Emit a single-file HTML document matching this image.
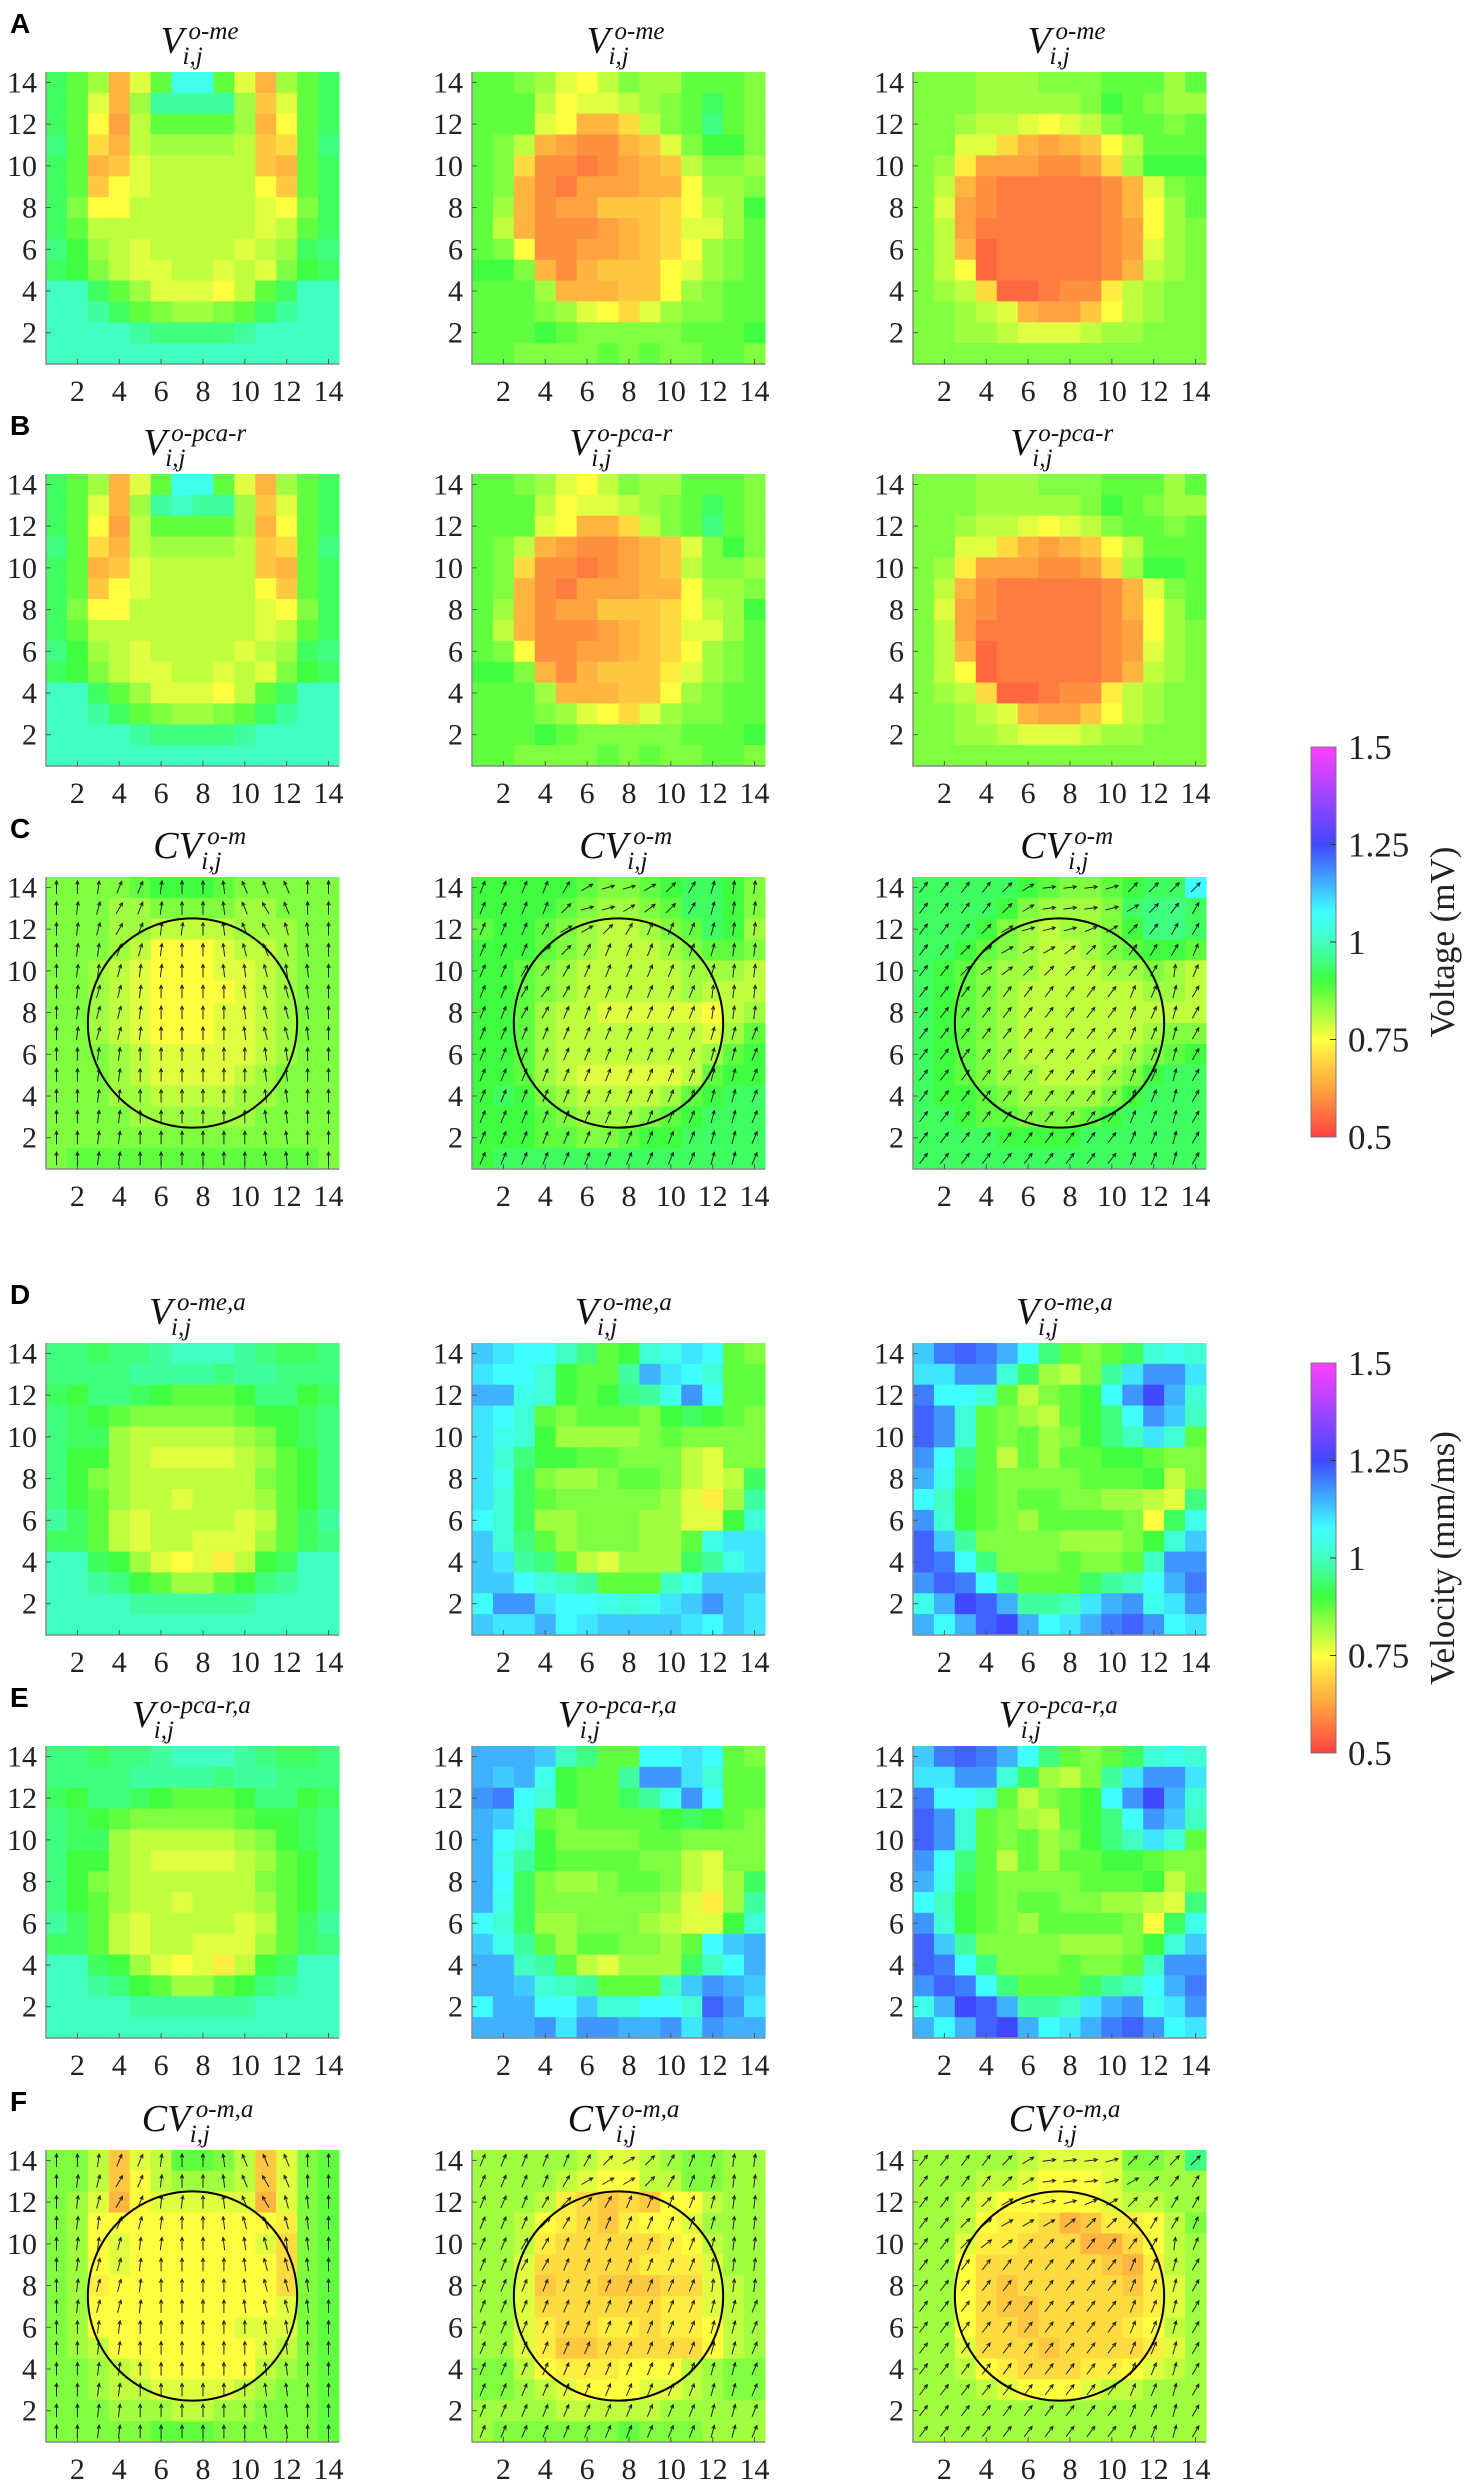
<!DOCTYPE html>
<html><head><meta charset="utf-8">
<style>
html,body{margin:0;padding:0;background:#fff;}
svg{display:block;}
.tk{font-family:"Liberation Serif",serif;font-size:30px;fill:#222;}
.cb{font-family:"Liberation Serif",serif;font-size:35px;fill:#222;}
.pl{font-family:"Liberation Sans",sans-serif;font-weight:bold;font-size:28px;fill:#000;}
.tt{font-family:"Liberation Serif",serif;font-style:italic;fill:#111;}
</style></head>
<body>
<svg id="fig" width="1471" height="2480" viewBox="0 0 1471 2480" xmlns="http://www.w3.org/2000/svg">
<defs>
<linearGradient id="cmap" x1="0" y1="1" x2="0" y2="0">
<stop offset="0" stop-color="#ff4040"/><stop offset="0.1" stop-color="#ff9040"/>
<stop offset="0.25" stop-color="#ffff40"/><stop offset="0.4" stop-color="#40ff40"/>
<stop offset="0.5" stop-color="#40ffc0"/><stop offset="0.575" stop-color="#40ffff"/>
<stop offset="0.75" stop-color="#4048ff"/><stop offset="1" stop-color="#ff40ff"/>
</linearGradient>
</defs>
</svg>
<script>
// value code: index in LEVELS -> 0.5 + idx*0.025
const LEVELS = "0123456789ABCDEFGHIJKLMNOPQRSTU";
// angle code: (idx-10)*7.5 degrees clockwise from up
const ANGLES = "abcdefghijklmnopqrstuvwxyz";
const tickValues = [2,4,6,8,10,12,14];
const cbarTicks = [0.5,0.75,1,1.25,1.5];
const cbarTickLabels = ["0.5","0.75","1","1.25","1.5"];

const gridA1 = ["HFD6BFMMFB6DFH","HFB6DJJJJD7BFH","HFA5CFFFFD6AFH","IF86CDDDDC78FI","HF67BCCCCC76FH","HF7ABCCCCCA7FH","HEAACCCCCCBAEH","HFCCCCCCCCBCFH","IGDCBCCCCBCDHI","HGECBBCCBCBEGH","KKHFDBBBACFHKK","KKJHFEDDEFHJKK","KKKKJIIIIJKKKK","KKKKKKKKKKKKKK"];
const gridA2 = ["FFEDBACEDDFFFE","FFFCABBCDEFHFE","FFFBA668CEFIFE","FEC654467BEGGE","FE84434567CEED","FE64355566ADDE","FD64557778ACDG","FC64445678BBDF","FEA4455678ADEF","GGE646777ABDEF","FFFD66677ADEFF","FFFEDBA8BDEEFF","FFFGFEEEEEFFFG","FFEEEEFEFEEFFE"];
const gridA3 = ["EEEDDDEEEFFFDF","EEEDDDDDEGFEDD","EEDCCBABCEFFEF","EEBB86567ACFFF","ED95554458DGGG","EC643333346BEF","EB543333346ADF","EC533333345ADE","EC623333345BDE","ECA23333346CDE","EDC8223449CDEE","EEDCB6557ACDEE","EEDDCBBBCDDEEE","EEEEEEEEEEEEEE"];
const gridB1 = ["HFD6BFMMFB6DFH","HFB6DJKJJD7BFH","HFA5CFFFFD6AFH","IF86CDDDDC78FI","HF67BCCCCC76FH","HF7ABCCCCCA7FH","HEAACCCCCCBAEH","HFCCCCCCCCBCFH","IGDCBCCCCBCDHI","HGECBBCCBCBEGH","KKHFDBBBACFHKK","KKJHFEDDEFHJKK","KKKKJIIIIJKKKK","KKKKKKKKKKKKKK"];
const gridB2 = ["FFEDBACEDDFFFE","FFFCABBCDEFHFE","FFFBA668CEFIFE","FEC6544567BEGE","FE84434567CEED","FE64355566ADDE","FD64557778ACDG","FC64445678BBDF","FEA4455678ADEF","GGE6467779BDEF","FFFD66677ADEFF","FFFEDBA8BDEEFF","FFFGFEEEEEFFFG","FFEEEEFEFEEFFE"];
const gridB3 = ["EEEDDDEEEFFFDF","EEEDDDDDEGFEDD","EEDCCBABCEFFEF","EEBB86567ACFFF","ED95554458DGGF","EC643333346BEF","EB543333346ADF","EC533333345ADE","EC623333345BDE","ECA23333346CDE","EDC8223449CDEE","EEDCB6557ACDEE","EEDDCBBBCDDEEE","EEEEEEEEEEEEEE"];
const gridC1 = ["EEEEFGGGFEEEEE","EEEDDEEEEDDEEE","EEEDDCCCCDDDEE","EEEDCAAABCCDEE","EEDCBAAABBCDEE","EEDCBAAAABCDEE","EEDCBAAABBCDEE","EEDCBAAABBCDEE","EEEDCBBBBBCDEE","EEEDCBBBBCDEEE","EEEDDCCCCDDEEE","EEEEDDDDDDEEEE","EEEEEEEEEEEEEE","EFFFFFFFFFFFFE"];
const gridC2 = ["GGGGGFEEFGHHGE","GGGGFEDDEFHHGE","FGGFEDCCDEFHGD","GGGFEDCCCDEFFE","GGFEDCCCCCDDDC","GGFEDCCCCCDCCC","GGFDCCBBBBBACD","GGFDCCCCCCCBDF","GGFDCCCCCCCDFG","GGFDCBBBBBCFGG","GHGEDCCCCDFGHH","GGGFEDDDEFGHHH","GGGFFEEFGGHHHH","GHHHHHHHHHHHHH"];
const gridC3 = ["HHHHHGFEEFGHHN","HHHHGEDDDEHIIH","HHHGEDCDDEGIIH","HHGFEDCCDEFGGF","HGFEDDCCCDDEDC","HGFEDCCCCCCDDC","HGFEDCCCCCCCCC","HGFEDCCCCCCDEE","HGFEDCCCCCDEFG","HGFEDDCCCDEGHH","HGGFEDDDDEGHHH","HHGFFEEEFGHHHH","HHHHGGGGHHHHHH","HHHHHHHHHHHHHH"];
const gridD1 = ["IIHIIJKKKJIHHI","IIIIJJJJIJJIII","HGIIHGFFFGIIGH","IHGFEEEEEFGGHI","IHHDCCCCCDEGHI","IGGDCBBBBCDFGI","IGEDCCCCCCEFGI","IGFDCCBCCCDFGI","JHFCBCCCCBCFHJ","HHFCBCCBBBDFHI","KKHGDBAB9CGHKK","KKJIGFDDFGIJKK","KKKKJJJJJJKKKK","KKKKKKKKKKKKKK"];
const gridD2 = ["PONNKIFGLMONFE","ONNLGFFJQONLFF","QQMLGFGIJMRNFF","ONLFEFFFEGHGFE","OMLGDDDDEFEEEE","OLIGGFFEEECBEE","OMHEDDEFFECBCH","OLHFEEEEEDB9DJ","NLHDDEEEDDBBGL","PLIFDEEEDDFMOO","POJIFCBDDDHJMO","PPNLKJFFFKMPPP","NRRONNMLMOPRPO","POOQNOPPPPONPO"];
const gridD3 = ["PSTSQNIFEFHLML","OORRLHDCEJORRO","SNNLFCEFGNRUQL","TRLFEDCFGINRPK","TRLFEFDEGIKOLF","RNIFCFDFFGGFEE","QMHFEEEEFFFGCE","NKGFEFFEEDDCBI","RLGFEDFFFFEAHM","TPJEEEEDDDEGLP","TSNIEEEFEEFKRR","RTSNIFFFHJKNQS","MQUTQJJKOQRMOR","QNQTUQNOQSTRNO"];
const gridE1 = ["IIHIIJKKKJIHHI","IIIIJJJJIJJIII","HGIIHGFFFGIIGH","IHGFEEEEEFGGHI","IHHDCCCCCDEGHI","IGGDCBBBBCDFGI","IGEDCCCCCCEFGI","IGFDCCBCCCDFGI","JHFCBCCCCBCFHJ","HHFCBCCBBBDFHI","KKHGDBAB9CGHKK","KKJIGFDDFGIJKK","KKKKJJJJJJKKKK","KKKKKKKKKKKKKK"];
const gridE2 = ["QQQPKIFFNNONFE","QPQMGFFJRROLFF","RSNLGFFHJMRNFF","QPMFEFFFFGHGFE","QNLGEEEEFFEEEE","QMJGFFFFEECBEE","QNHEDDEFFECBDH","QMHEEEEEEDB9DJ","NLHDDEEEDCBBGL","PMJFDFFEEDFNPQ","QQKJFCBDDDHKNQ","QQPLKJFFFKPRQP","NQQNNPLLNNLTRO","QQQRORRQQRORQQ"];
const gridE3 = ["PSTSQNIFEFHLML","OORRLHDCEJORRO","SNNLFCEFGNRUQL","TRLFEDCFGINRPK","TRLFEFDEGIKOLF","RNIFCFDFFGGFEE","QMHFEEEEFFFGCE","NKGFEFFEEDDCBI","RLGFEDFFFFEAHM","TPJEEEEDDDEGLP","TSNIEEEFEEFKRR","RTSNIFFFHJKNQS","MQUTQJJKOQRMOR","QNQTUQNOQSTRNO"];
const gridF1 = ["EEC7BCFFEC7BEF","EEC7ACDDDC7BEF","EDB6ABBBBB6BEF","EDAAAAAAAAA9EF","EDABAAAAAAB8EF","EDABAAAAAAA8EF","ED9AAAAAAAA8EF","EDAAAAAAAAABEF","EDAAAAAAABBBEF","EDCAAAAAAABCEF","EEDCBAAAAACDEF","EEDCCBBBBCDEEF","EEEDDDCCDDEEEF","EEEEEFFFEEEEEF"];
const gridF2 = ["DDDDDCBBCDEEDD","DDDDCBAACCEEDD","DDDC98787AACDD","DDCA9879AABDDD","DDC9888889ACDD","DDB88888999BDD","DDB78877788BCD","DDB88888899BCD","DDB98899899ACD","DDB97788888ACD","EECA999AAACDEE","EEDCBAAABBCDEE","DDDDCCCCCDDDDD","DEEEEEEFEEEDDD"];
const gridF3 = ["DDDDDCBBBBEEDI","DDDCCBAAABDDDD","DDCBAAAAABCCDD","DDCA9986799ACE","DDB99888668ACD","DDA888888769CD","DDA878888879BD","DDA877888889BD","DDA88788889ACD","DDB888788889BD","DDCA988899ABCD","DDDCBAAABCCDDD","DDDDDDDDDDDDDD","DDDDDDDDDDDDDD"];

const angC1 = ["kklnnlkkjhhhkk","klmonlkkjhghkk","klmonllkjhgijk","kllnmlkkjihijk","kllmllkkjjijjk","klmmlkkkkjiijk","klmmlkkkkjiijk","klmmlkkkkjiijk","kkllkkkkkkjjkk","kkllkkkkkkjjkk","kkllkkkkkkjjkk","kkllkkkkkkjjkk","kkllkkkkkkjjkk","kkllkkkkkkjjkk"];
const angC2 = ["nnnnosuusqomll","nnnnquusrqomll","nnnossqonnnmll","nnnrqonnnnnmll","nnoponnnnnnmll","nnoponnnnnnlll","nnoonnnnnnnlll","nnnnnnnnnnnmmn","nnnnnnnnnnnmmn","nnnnnnnnnnnmmn","nnnnnnnnnnnmmn","nnnnnnnnnnnmmn","nnnnnnnnnnnmmn","nnnnnnnnnnnmmn"];
const angC3 = ["ppppqsvvvuqqqq","ppppqsvvvusqpo","pppqsuuutsqpoo","ppqrsssrqqpoon","ppqrrqqqpppoln","ppppppppppnnmo","ppppppppppnnmo","ppppppppppnnmo","ppppppppppnnmo","ppppppppppnnmo","ppppppppppnnmo","ppppppppppnnmo","ppppppppppnnmo","ppppppppppnnmo"];
const angF1 = ["kklnnlkkjhhhkk","klmonlkkjhghkk","klmonllkjhgijk","kllnmlkkjihijk","kllmllkkjjijjk","klmmlkkkkjiijk","klmmlkkkkjiijk","klmmlkkkkjiijk","kkllkkkkkkjjkk","kkllkkkkkkjjkk","kkllkkkkkkjjkk","kkllkkkkkkjjkk","kkllkkkkkkjjkk","kkllkkkkkkjjkk"];
const angF2 = ["nnnnnoqsqonmll","nnnnosssqonmll","nnnoqqonnnnmll","nnnqonnnnnnmll","nnoonnnnnnnmll","nnoonnnnnnnlll","nnnnnnnnnnnlll","nnnnnnnnnnnmmn","nnnnnnnnnnnmmn","nnnnnnnnnnnmmn","nnnnnnnnnnnmmn","nnnnnnnnnnnmmn","nnnnnnnnnnnmmn","nnnnnnnnnnnmmn"];
const angF3 = ["ppppqsvvvuqqqq","ppppqsvvvusqpo","pppqsuuutsqpoo","ppqrsssrqqpoon","ppqrrqqqpppoln","ppppppppppnnmo","ppppppppppnnmo","ppppppppppnnmo","ppppppppppnnmo","ppppppppppnnmo","ppppppppppnnmo","ppppppppppnnmo","ppppppppppnnmo","ppppppppppnnmo"];

const NS = "http://www.w3.org/2000/svg";
const svg = document.getElementById('fig');
const colLeft = [46, 472, 913];
const rowTop = [72, 474, 877, 1343, 1746, 2150];
const PW = 293, PH = 292;

const stops = [[0.5,[255,64,64]],[0.6,[255,144,64]],[0.75,[255,255,64]],[0.9,[64,255,64]],[1.0,[64,255,192]],[1.075,[64,255,255]],[1.25,[64,72,255]],[1.5,[255,64,255]]];
function cmap(v){
  if(v<=stops[0][0]) return 'rgb('+stops[0][1]+')';
  for(let i=1;i<stops.length;i++){
    if(v<=stops[i][0]){
      const t=(v-stops[i-1][0])/(stops[i][0]-stops[i-1][0]);
      const a=stops[i-1][1], b=stops[i][1];
      return 'rgb('+a.map((x,k)=>Math.round(x+(b[k]-x)*t)).join(',')+')';
    }
  }
  return 'rgb('+stops[stops.length-1][1]+')';
}
function mk(tag, attrs, parent){
  const e=document.createElementNS(NS,tag);
  for(const k in attrs) e.setAttribute(k, attrs[k]);
  (parent||svg).appendChild(e);
  return e;
}
function cellChar(line, c){
  let ch = line[c];
  if(ch===undefined || LEVELS.indexOf(ch)<0) ch = line[Math.min(c, line.length)-1] || 'F';
  return ch;
}
function decodeVal(ch){ return 0.5 + Math.max(0,LEVELS.indexOf(ch))*0.025; }
function decodeAng(ch){ return (ANGLES.indexOf(ch)-10)*7.5; }

const panels = [
  {row:0,col:0,grid:gridA1,main:"V",sup:"o-me"},
  {row:0,col:1,grid:gridA2,main:"V",sup:"o-me"},
  {row:0,col:2,grid:gridA3,main:"V",sup:"o-me"},
  {row:1,col:0,grid:gridB1,main:"V",sup:"o-pca-r"},
  {row:1,col:1,grid:gridB2,main:"V",sup:"o-pca-r"},
  {row:1,col:2,grid:gridB3,main:"V",sup:"o-pca-r"},
  {row:2,col:0,grid:gridC1,main:"CV",sup:"o-m",ang:angC1},
  {row:2,col:1,grid:gridC2,main:"CV",sup:"o-m",ang:angC2},
  {row:2,col:2,grid:gridC3,main:"CV",sup:"o-m",ang:angC3},
  {row:3,col:0,grid:gridD1,main:"V",sup:"o-me,a"},
  {row:3,col:1,grid:gridD2,main:"V",sup:"o-me,a"},
  {row:3,col:2,grid:gridD3,main:"V",sup:"o-me,a"},
  {row:4,col:0,grid:gridE1,main:"V",sup:"o-pca-r,a"},
  {row:4,col:1,grid:gridE2,main:"V",sup:"o-pca-r,a"},
  {row:4,col:2,grid:gridE3,main:"V",sup:"o-pca-r,a"},
  {row:5,col:0,grid:gridF1,main:"CV",sup:"o-m,a",ang:angF1},
  {row:5,col:1,grid:gridF2,main:"CV",sup:"o-m,a",ang:angF2},
  {row:5,col:2,grid:gridF3,main:"CV",sup:"o-m,a",ang:angF3}
];
const panelLetters = ["A","B","C","D","E","F"];

panels.forEach((p,pi)=>{
  const x0=colLeft[p.col], y0=rowTop[p.row];
  const cw=PW/14, ch=PH/14;
  const xs = v => x0 + (v-0.5)*cw;
  const ys = v => y0 + (14.5-v)*ch;
  const g = mk('g',{});
  
  
  for(let r=0;r<14;r++){
    const line=p.grid[r];
    const yv=14-r;
    for(let c=0;c<14;c++){
      const xv=c+1;
      const rc=mk('rect',{x:xs(xv-0.5).toFixed(2),y:ys(yv+0.5).toFixed(2),width:(cw+0.6).toFixed(2),height:(ch+0.6).toFixed(2),fill:cmap(decodeVal(cellChar(line,c)))},g);
      
      
    }
  }
  const ax=mk('path',{d:`M${x0} ${y0} V${y0+PH} H${x0+PW}`,stroke:'#8a8a8a','stroke-width':1.5,fill:'none'},g);
  
  
  tickValues.forEach(t=>{
    mk('line',{x1:xs(t),x2:xs(t),y1:y0+PH,y2:y0+PH-5,stroke:'#555','stroke-width':1},g);
    mk('line',{x1:x0,x2:x0+5,y1:ys(t),y2:ys(t),stroke:'#555','stroke-width':1},g);
    const xt=mk('text',{x:xs(t),y:y0+PH+37,'text-anchor':'middle',class:'tk','font-family':'Liberation Serif, serif','font-size':30},g);
    xt.textContent=t;
    
    
    const yt=mk('text',{x:x0-9,y:ys(t)+10,'text-anchor':'end',class:'tk','font-family':'Liberation Serif, serif','font-size':30},g);
    yt.textContent=t;
    
    
  });
  if(p.ang){
    for(let r=0;r<14;r++){
      for(let c=0;c<14;c++){
        const a=decodeAng(p.ang[r][c])*Math.PI/180;
        const cx=xs(c+1), cy=ys(14-r), L=13;
        const dx=Math.sin(a), dy=-Math.cos(a);
        const x1=cx-dx*L/2, y1=cy-dy*L/2, x2=cx+dx*L/2, y2=cy+dy*L/2;
        const h=4, ha=0.45;
        const bx1=x2-h*(dx*Math.cos(ha)-dy*Math.sin(ha)), by1=y2-h*(dy*Math.cos(ha)+dx*Math.sin(ha));
        const bx2=x2-h*(dx*Math.cos(ha)+dy*Math.sin(ha)), by2=y2-h*(dy*Math.cos(ha)-dx*Math.sin(ha));
        const ar=mk('path',{d:`M${x1.toFixed(1)} ${y1.toFixed(1)}L${x2.toFixed(1)} ${y2.toFixed(1)}M${bx1.toFixed(1)} ${by1.toFixed(1)}L${x2.toFixed(1)} ${y2.toFixed(1)}L${bx2.toFixed(1)} ${by2.toFixed(1)}`,stroke:'#222','stroke-width':1,fill:'none'},g);
        
        
      }
    }
    const circ=mk('circle',{cx:xs(7.5),cy:ys(7.5),r:5*cw,fill:'none',stroke:'#000','stroke-width':2},g);
    
    
  }
  const tcx=x0+PW/2, mainW = p.main==="V"?26:52, supW=p.sup.length*11.5;
  const tx=tcx-(mainW+supW)/2+4;
  const tm=mk('text',{x:tx,y:y0-19,class:'tt','font-size':38},g);
  tm.textContent=p.main;
  
  
  const ts=mk('text',{x:tx+mainW+2,y:y0-33,class:'tt','font-size':25},g);
  ts.textContent=p.sup;
  
  
  const tb=mk('text',{x:tx+mainW-4,y:y0-8,class:'tt','font-size':25},g);
  tb.textContent="i,j";
  
  
  if(p.col===0){
    const pl=mk('text',{x:10,y:y0-39,class:'pl'});
    pl.textContent=panelLetters[p.row];
    
    
  }
});

[[747,1137,"Voltage (mV)","voltage-colorbar"],[1363,1753,"Velocity (mm/ms)","velocity-colorbar"]].forEach(cfg=>{
  const [top,bot,label,name]=cfg;
  const g=mk('g',{});
  
  
  mk('rect',{x:1311,y:top,width:25,height:bot-top,fill:'url(#cmap)',stroke:'#777','stroke-width':1},g);
  const vs = v => bot - (v-0.5)*(bot-top);
  cbarTicks.forEach((t,i)=>{
    if(i>0 && i<cbarTicks.length-1) mk('line',{x1:1330,x2:1336,y1:vs(t),y2:vs(t),stroke:'#333','stroke-width':1},g);
    const tl=mk('text',{x:1348,y:vs(t)+12,class:'cb','font-family':'Liberation Serif, serif','font-size':35},g);
    tl.textContent=cbarTickLabels[i];
    
    
  });
  const cy=(top+bot)/2;
  const tt=mk('text',{x:1454,y:cy,class:'cb','text-anchor':'middle','font-family':'Liberation Serif, serif','font-size':35,transform:`rotate(-90 1454 ${cy})`},g);
  tt.textContent=label;
  
  
});
</script>
</body></html>
